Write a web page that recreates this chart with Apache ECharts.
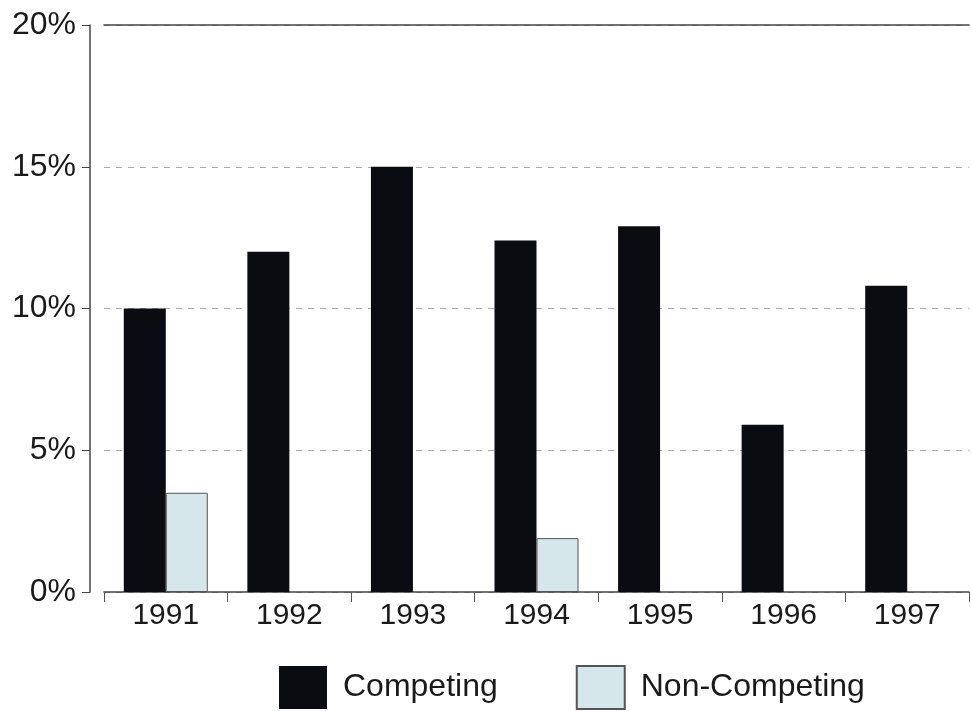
<!DOCTYPE html>
<html>
<head>
<meta charset="utf-8">
<script src="https://cdn.jsdelivr.net/npm/echarts@6/dist/echarts.min.js"></script>
<style>
  html, body { margin: 0; padding: 0; background: #fff; }
  #chart { width: 972px; height: 711px; }
</style>
</head>
<body>
<div id="chart"></div>
<script>
// data
var years = ['1991', '1992', '1993', '1994', '1995', '1996', '1997'];
var competing = [10, 12, 15, 12.4, 12.9, 5.9, 10.8];
var nonCompeting = [3.5, null, null, 1.9, null, null, null];
var yTicks = [0, 5, 10, 15, 20];

var font = 'Liberation Sans, Arial, sans-serif';
var myChart = echarts.init(document.getElementById('chart'));

var option = {
  animation: false,
  backgroundColor: '#fff',
  grid: { left: 104, right: 3, top: 25, bottom: 119 },
  legend: {
    left: 274,
    top: 660,
    icon: 'rect',
    itemWidth: 48,
    itemHeight: 43,
    itemGap: 78,
    textStyle: { fontFamily: font, fontSize: 32, color: '#1a1a1a', padding: [0, 0, 0, 11] },
    data: ['Competing', 'Non-Competing']
  },
  xAxis: [
    {
      type: 'category',
      data: years,
      axisLine: { lineStyle: { color: '#444', width: 1.5 } },
      axisTick: { show: true, length: 10, lineStyle: { color: '#555' } },
      axisLabel: { fontFamily: font, fontSize: 30, color: '#1a1a1a', margin: 9 }
    },
    {
      type: 'category',
      position: 'top',
      data: years,
      axisLine: { lineStyle: { color: '#444', width: 1.5 } },
      axisTick: { show: false },
      axisLabel: { show: false }
    }
  ],
  yAxis: {
    type: 'value',
    min: yTicks[0],
    max: yTicks[yTicks.length - 1],
    interval: 5,
    offset: 14,
    axisLine: { show: true, lineStyle: { color: '#444', width: 1.5 } },
    axisTick: { show: true, length: 8, lineStyle: { color: '#444' } },
    axisLabel: { formatter: '{value}%', fontFamily: font, fontSize: 32, color: '#1a1a1a', margin: 14 },
    splitLine: { lineStyle: { color: '#aaa', type: [6, 6], width: 1 } }
  },
  series: [
    {
      name: 'Competing',
      type: 'bar',
      data: competing,
      barWidth: 42,
      barGap: '0%',
      itemStyle: { color: '#0b0b12' }
    },
    {
      name: 'Non-Competing',
      type: 'bar',
      data: nonCompeting,
      barWidth: 42,
      barGap: '0%',
      itemStyle: { color: '#d6e7eb', borderColor: '#555', borderWidth: 1 }
    }
  ]
};

option && myChart.setOption(option);
</script>
</body>
</html>
